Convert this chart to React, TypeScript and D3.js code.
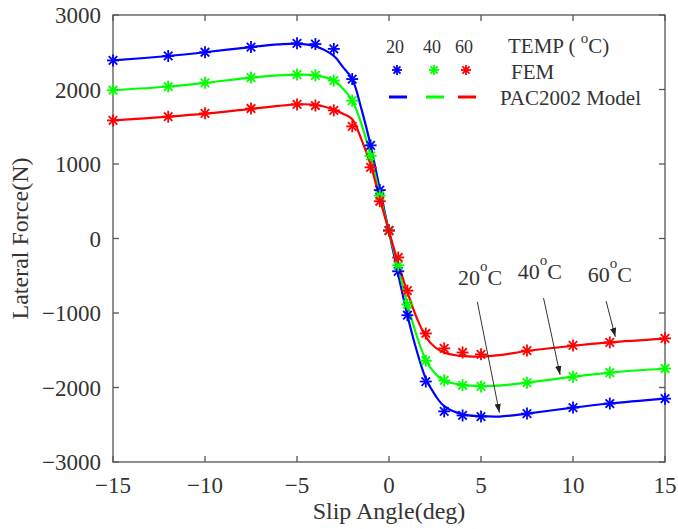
import React, { useEffect, useRef } from 'react';
import * as d3 from 'd3';

// FEM sample points (slip angle in deg, lateral force in N)
const femAngles = [-15, -12, -10, -7.5, -5, -4, -3, -2, -1, -0.5, 0, 0.5, 1, 2, 3, 4, 5, 7.5, 10, 12, 15];
const fem20 = [2390, 2450, 2500, 2570, 2620, 2610, 2545, 2140, 1250, 650, 110, -440, -1030, -1920, -2320, -2375, -2390, -2350, -2270, -2215, -2150];
const fem40 = [1990, 2040, 2090, 2160, 2200, 2190, 2120, 1850, 1110, 575, 105, -360, -885, -1640, -1905, -1970, -1985, -1935, -1855, -1800, -1745];
const fem60 = [1585, 1635, 1680, 1745, 1800, 1785, 1720, 1505, 955, 500, 105, -255, -700, -1275, -1475, -1530, -1555, -1505, -1435, -1395, -1340];

// PAC2002 model curves
const modelAngles = [-15, -12, -10, -7.5, -6, -5, -4, -3, -2.5, -2, -1.5, -1, -0.5, 0, 0.5, 1, 1.5, 2, 2.5, 3, 4, 5, 6, 7.5, 10, 12, 15];
const model20 = [2390, 2450, 2500, 2570, 2605, 2615, 2580, 2450, 2300, 2140, 1740, 1250, 660, 90, -480, -1030, -1500, -1880, -2100, -2250, -2360, -2385, -2390, -2350, -2270, -2215, -2150];
const model40 = [1990, 2040, 2090, 2160, 2190, 2200, 2190, 2120, 2010, 1850, 1540, 1110, 580, 95, -390, -880, -1300, -1630, -1810, -1910, -1965, -1980, -1975, -1935, -1855, -1800, -1745];
const model60 = [1585, 1635, 1675, 1740, 1780, 1800, 1795, 1730, 1675, 1600, 1330, 990, 530, 95, -330, -720, -1060, -1320, -1460, -1530, -1580, -1585, -1565, -1510, -1440, -1395, -1345];

const temps = ['20', '40', '60'];
const colors = ['#0000ff', '#00ff00', '#ff0000'];

const xTicks = [-15, -10, -5, 0, 5, 10, 15];
const yTicks = [-3000, -2000, -1000, 0, 1000, 2000, 3000];

// temperature callouts: label anchor and arrow (data units)
const callouts = [
  { t: '20', lx: 3.75, ly: -620, x1: 4.8, y1: -850, x2: 6.0, y2: -2340 },
  { t: '40', lx: 7.0, ly: -550, x1: 8.4, y1: -800, x2: 9.3, y2: -1830 },
  { t: '60', lx: 10.8, ly: -590, x1: 11.8, y1: -840, x2: 12.3, y2: -1320 },
];

const W = 678;
const H = 529;
const margin = { top: 15, right: 13, bottom: 67, left: 113 };
const font = '"Liberation Serif", "Times New Roman", serif';
const ink = '#333';

const asterisk = (g, x, y, r, color) => {
  for (let k = 0; k < 4; k++) {
    const a = (k * Math.PI) / 4;
    g.append('line')
      .attr('x1', x - r * Math.cos(a))
      .attr('y1', y - r * Math.sin(a))
      .attr('x2', x + r * Math.cos(a))
      .attr('y2', y + r * Math.sin(a))
      .attr('stroke', color)
      .attr('stroke-width', 1.8);
  }
};

const App = () => {
  const svgRef = useRef(null);

  useEffect(() => {
    const svg = d3.select(svgRef.current);
    svg.selectAll('*').remove();

    const x = d3.scaleLinear().domain([-15, 15]).range([margin.left, W - margin.right]);
    const y = d3.scaleLinear().domain([-3000, 3000]).range([H - margin.bottom, margin.top]);
    const [x0, x1] = x.range();
    const [y0, y1] = y.range();

    // frame with inward ticks on all four sides
    const axes = svg.append('g').attr('stroke', '#555').attr('stroke-width', 1.3);
    axes.append('rect').attr('x', x0).attr('y', y1).attr('width', x1 - x0).attr('height', y0 - y1).attr('fill', 'none');
    xTicks.forEach((t) => {
      axes.append('line').attr('x1', x(t)).attr('x2', x(t)).attr('y1', y0).attr('y2', y0 - 6);
      axes.append('line').attr('x1', x(t)).attr('x2', x(t)).attr('y1', y1).attr('y2', y1 + 6);
    });
    yTicks.forEach((t) => {
      axes.append('line').attr('y1', y(t)).attr('y2', y(t)).attr('x1', x0).attr('x2', x0 + 6);
      axes.append('line').attr('y1', y(t)).attr('y2', y(t)).attr('x1', x1).attr('x2', x1 - 6);
    });

    const fmt = (v) => (v < 0 ? '\u2212' + Math.abs(v) : String(v));
    const labels = svg.append('g').attr('font-family', font).attr('fill', ink).attr('font-size', 23);
    labels.selectAll('.xt').data(xTicks).join('text')
      .attr('x', (d) => x(d)).attr('y', y0 + 31).attr('text-anchor', 'middle').text(fmt);
    labels.selectAll('.yt').data(yTicks).join('text')
      .attr('x', x0 - 12).attr('y', (d) => y(d) + 8).attr('text-anchor', 'end').text(fmt);

    labels.append('text').attr('x', (x0 + x1) / 2).attr('y', H - 10).attr('text-anchor', 'middle')
      .attr('font-size', 24).text('Slip Angle(deg)');
    labels.append('text').attr('transform', `translate(28,${(y0 + y1) / 2}) rotate(-90)`)
      .attr('text-anchor', 'middle').attr('font-size', 24).text('Lateral Force(N)');

    // model curves
    const line = d3.line().x((d) => x(d[0])).y((d) => y(d[1])).curve(d3.curveCatmullRom.alpha(0.5));
    [model20, model40, model60].forEach((vals, i) => {
      svg.append('path')
        .datum(modelAngles.map((a, j) => [a, vals[j]]))
        .attr('d', line)
        .attr('fill', 'none')
        .attr('stroke', colors[i])
        .attr('stroke-width', 2.2);
    });

    // FEM markers
    const pts = svg.append('g');
    [fem20, fem40, fem60].forEach((vals, i) => {
      femAngles.forEach((a, j) => asterisk(pts, x(a), y(vals[j]), 6, colors[i]));
    });

    // legend
    const leg = svg.append('g').attr('font-family', font).attr('fill', ink);
    const legX = [395, 432, 464];
    temps.forEach((t, i) => {
      leg.append('text').attr('x', legX[i]).attr('y', 53).attr('text-anchor', 'middle').attr('font-size', 18).text(t);
      asterisk(leg, legX[i] + 2, 70, 5, colors[i]);
      leg.append('line').attr('x1', legX[i] - 6).attr('x2', legX[i] + 12).attr('y1', 97).attr('y2', 97)
        .attr('stroke', colors[i]).attr('stroke-width', 3);
    });
    const temp = leg.append('text').attr('x', 508).attr('y', 53).attr('font-size', 21);
    temp.append('tspan').text('TEMP ( ');
    temp.append('tspan').attr('dy', -10).attr('font-size', 15).text('o');
    temp.append('tspan').attr('dy', 10).text('C)');
    leg.append('text').attr('x', 511).attr('y', 79).attr('font-size', 21).text('FEM');
    leg.append('text').attr('x', 500).attr('y', 105).attr('font-size', 21).text('PAC2002 Model');

    // callouts
    const ann = svg.append('g').attr('font-family', font).attr('fill', ink);
    const defs = svg.append('defs');
    defs.append('marker').attr('id', 'head').attr('viewBox', '0 0 10 10').attr('refX', 10).attr('refY', 5)
      .attr('markerWidth', 9).attr('markerHeight', 9).attr('orient', 'auto-start-reverse')
      .attr('markerUnits', 'userSpaceOnUse')
      .append('path').attr('d', 'M0,1.5 L10,5 L0,8.5 Z').attr('fill', '#222');
    callouts.forEach((c) => {
      const tx = ann.append('text').attr('x', x(c.lx)).attr('y', y(c.ly)).attr('font-size', 22);
      tx.append('tspan').text(c.t);
      tx.append('tspan').attr('dy', -14).attr('font-size', 15).text('o');
      tx.append('tspan').attr('dy', 14).text('C');
      ann.append('line').attr('x1', x(c.x1)).attr('y1', y(c.y1)).attr('x2', x(c.x2)).attr('y2', y(c.y2))
        .attr('stroke', '#333').attr('stroke-width', 1).attr('marker-end', 'url(#head)');
    });
  }, []);

  return (
    <svg ref={svgRef} width={W} height={H} style={{ position: 'absolute', left: 0, top: 0, background: '#fff' }} />
  );
};

export default App;
